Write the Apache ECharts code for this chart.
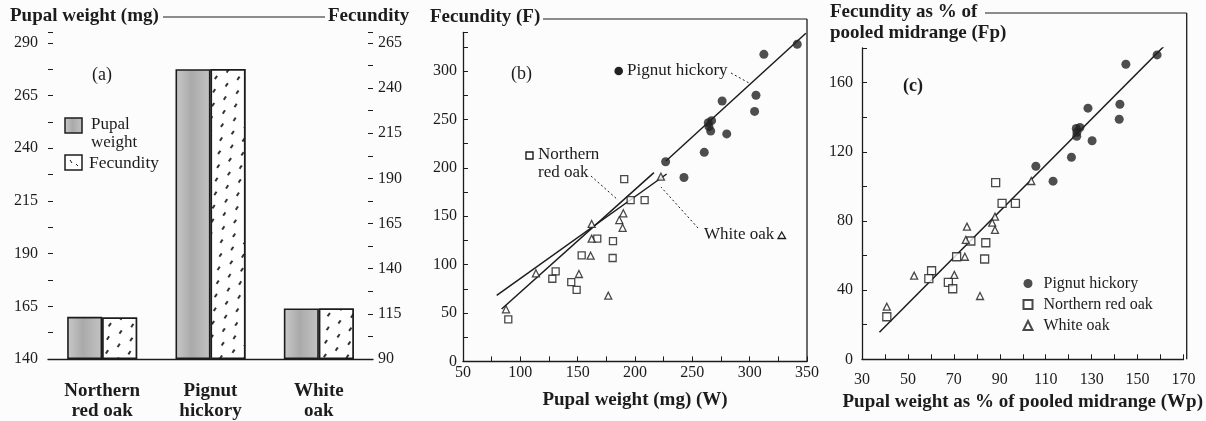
<!DOCTYPE html>
<html>
<head>
<meta charset="utf-8">
<script src="https://cdn.jsdelivr.net/npm/echarts@6/dist/echarts.min.js"></script>
<style>
html,body{margin:0;padding:0;background:#fcfcfc;}
#chart{width:1206px;height:421px;}
</style>
</head>
<body>
<div id="chart"></div>
<script>
// ---------- Panel (a) ----------
const categories = ['Northern\nred oak', 'Pignut\nhickory', 'White\noak'];
const pupalWeight = [160, 277.5, 164];     // mg
const fecundity = [113, 250.5, 118];
const pupalAxisMin = 140, pupalAxisMax = 290;   // left axis range (labels every 25)
const fecAxisMin = 90, fecAxisMax = 265;        // right axis range (labels every 25)

// ---------- Panel (b) : W (mg) vs F ----------
const pignutB = [[341.5,327.6],[312.4,317.2],[305.5,275],[304.3,258.3],[276,269],[280,235],[266.8,248.7],[263.9,246.6],[264.5,242.5],[266,238],[260.4,216],[242.7,190],[226.7,206.3]];
const redOakB = [[190.6,188.4],[196.2,166.7],[208.4,166.7],[180.8,124.3],[180.5,106.8],[167.1,126.8],[153.5,109.6],[130.8,93],[127.9,85.4],[144.4,82],[149.1,73.8],[89.5,43.5]];
const whiteOakB = [[222.6,190.8],[189.8,153],[186.3,146],[189.2,138],[162.2,142],[162.2,126.8],[161.3,109.2],[151.1,90.3],[113.6,91],[176.7,67.9],[87.5,53.8]];
const pignutFitB = [[227,207],[349,339]];
const redOakFitB = [[83.7,54.1],[216.5,195]];
const whiteOakFitB = [[79.4,68.3],[227.6,193.6]];

// ---------- Panel (c) : Wp vs Fp ----------
const pignutC = [[158.5,176],[144.9,170.6],[142.3,147.5],[142,138.8],[128.4,145.2],[130.2,126.4],[123.3,133.5],[124.9,134],[123.6,131.3],[123.5,129],[121.2,116.8],[113.2,103],[105.7,111.6]];
const redOakC = [[88.2,102.1],[91,90.2],[96.8,90.2],[77.4,68.4],[83.9,67.4],[83.4,58],[71.2,59.3],[60.3,51.2],[59.1,46.6],[67.6,44.5],[69.5,40.8],[40.8,24.6]];
const whiteOakC = [[103.7,103.1],[87.9,82.5],[86.7,79],[87.9,74.8],[75.7,76.7],[75.2,69],[74.8,59.3],[70.2,48.8],[52.7,48.4],[81.4,36.6],[40.8,30.4]];
const pooledFitC = [[37.6,15.6],[163.8,184.1]];

const SERIF = '"Liberation Serif", "DejaVu Serif", serif';
const INK = '#1c1c1c';
const BOLD = 'bold 19px ' + SERIF;

const chart = echarts.init(document.getElementById('chart'), null, {renderer:'canvas'});

const grayFill = new echarts.graphic.LinearGradient(0,0,1,0,[
  {offset:0,color:'#c9c9c9'},{offset:0.45,color:'#aaaaaa'},{offset:1,color:'#c3c3c3'}]);
const fecDecal = {
  symbol:'rect', symbolSize:1, symbolKeepAspect:false, color:'#333', backgroundColor:'#ffffff',
  dashArrayX:[[1.1,11],[0,6,1.1,5]], dashArrayY:[3.5,8], rotation:0.6
};

// Offset axes so ticks start at the axis minimum regardless of tick rounding
const pwSpan = pupalAxisMax - pupalAxisMin;       // 150
const fecSpan = fecAxisMax - fecAxisMin;          // 175
const extraTop = 5;                               // axis line runs a little above top label
const leftMax = pwSpan + extraTop;
const rightMax = leftMax * fecSpan / pwSpan;

const axisLine = {lineStyle:{color:INK,width:1.3}};
const tick = {show:true, inside:true, length:5, lineStyle:{color:INK,width:1}};
const lbl = (extra) => Object.assign({color:INK, fontFamily:SERIF, fontSize:16}, extra);

const symStyleHollow = {color:'#ffffff', borderColor:INK, borderWidth:1.3};

function fitLine(name, data, xi, yi){
  return {type:'line', name:name, xAxisIndex:xi, yAxisIndex:yi, data:data, symbol:'none',
    silent:true, lineStyle:{color:INK,width:1.5}, z:1, animation:false};
}

const option = {
  animation:false,
  backgroundColor:'#fcfcfc',
  textStyle:{fontFamily:SERIF},
  grid:[
    {left:48, top:32.4, width:325, height:327.6},
    {left:463, top:32.3, width:344, height:329.1},
    {left:862, top:48, width:325, height:311.3}
  ],
  legend:{
    data:['Pignut hickory','Northern red oak','White oak'],
    orient:'vertical', left:1022.5, top:274, padding:0,
    itemWidth:9, itemHeight:9, itemGap:2, selectedMode:false,
    textStyle:{fontFamily:SERIF, fontSize:16, color:INK, lineHeight:19, padding:[0,0,0,6]}
  },
  xAxis:[
    {type:'category', gridIndex:0, data:categories, axisLine:axisLine, axisTick:{show:false},
     axisLabel:lbl({fontWeight:'bold', fontSize:19, lineHeight:20, margin:22})},
    {type:'value', gridIndex:1, min:50, max:350, interval:25, axisLine:axisLine, axisTick:tick,
     splitLine:{show:false},
     axisLabel:lbl({margin:3, formatter:v => (v % 50 === 0 ? String(v) : '')}),
     name:'Pupal weight (mg) (W)', nameLocation:'middle', nameGap:29,
     nameTextStyle:{fontFamily:SERIF, fontWeight:'bold', fontSize:19, color:INK}},
    {type:'value', gridIndex:2, min:30, max:170, interval:10, axisLine:axisLine, axisTick:tick,
     splitLine:{show:false},
     axisLabel:lbl({margin:12, formatter:v => ((v - 30) % 20 === 0 ? String(v) : '')}),
     name:'Pupal weight as % of pooled midrange (Wp)', nameLocation:'middle', nameGap:31,
     nameTextStyle:{fontFamily:SERIF, fontWeight:'bold', fontSize:19, color:INK}}
  ],
  yAxis:[
    {type:'value', gridIndex:0, position:'left', min:0, max:leftMax, interval:12.5,
     axisLine:axisLine, axisTick:tick, splitLine:{show:false},
     axisLabel:lbl({margin:10, formatter:v => (v % 25 === 0 && v <= pwSpan ? String(v + pupalAxisMin) : '')})},
    {type:'value', gridIndex:0, position:'right', min:0, max:rightMax, interval:12.5,
     axisLine:axisLine, axisTick:tick, splitLine:{show:false},
     axisLabel:lbl({margin:5, formatter:v => (v % 25 === 0 && v <= fecSpan ? String(v + fecAxisMin) : '')})},
    {type:'value', gridIndex:1, min:0, max:340, interval:25, axisLine:axisLine, axisTick:tick,
     splitLine:{show:false},
     axisLabel:lbl({margin:6, formatter:v => (v % 50 === 0 ? String(v) : '')})},
    {type:'value', gridIndex:2, min:0, max:180, interval:20, axisLine:axisLine, axisTick:tick,
     splitLine:{show:false},
     axisLabel:lbl({margin:9, formatter:v => (v % 40 === 0 && v <= 160 ? String(v) : '')})}
  ],
  series:[
    {type:'bar', name:'Pupal weight', xAxisIndex:0, yAxisIndex:0, barWidth:35, barGap:'0%',
     data:pupalWeight.map(v => v - pupalAxisMin),
     itemStyle:{color:grayFill, borderColor:INK, borderWidth:1.6}},
    {type:'bar', name:'Fecundity', xAxisIndex:0, yAxisIndex:1, barWidth:35, barGap:'0%',
     data:fecundity.map(v => v - fecAxisMin),
     itemStyle:{color:'#ffffff', borderColor:INK, borderWidth:1.6, decal:fecDecal}},

    fitLine('fitPignutB', pignutFitB, 1, 2),
    fitLine('fitRedOakB', redOakFitB, 1, 2),
    fitLine('fitWhiteOakB', whiteOakFitB, 1, 2),
    {type:'scatter', name:'Pignut hickory', xAxisIndex:1, yAxisIndex:2, data:pignutB,
     symbol:'circle', symbolSize:9, itemStyle:{color:'#222'}, z:3},
    {type:'scatter', name:'Northern red oak', xAxisIndex:1, yAxisIndex:2, data:redOakB,
     symbol:'rect', symbolSize:7, itemStyle:symStyleHollow, z:3},
    {type:'scatter', name:'White oak', xAxisIndex:1, yAxisIndex:2, data:whiteOakB,
     symbol:'triangle', symbolSize:7, itemStyle:symStyleHollow, z:3},

    fitLine('fitPooledC', pooledFitC, 2, 3),
    {type:'scatter', name:'Pignut hickory', xAxisIndex:2, yAxisIndex:3, data:pignutC,
     symbol:'circle', symbolSize:9, itemStyle:{color:'#222'}, z:3},
    {type:'scatter', name:'Northern red oak', xAxisIndex:2, yAxisIndex:3, data:redOakC,
     symbol:'rect', symbolSize:8, itemStyle:symStyleHollow, z:3},
    {type:'scatter', name:'White oak', xAxisIndex:2, yAxisIndex:3, data:whiteOakC,
     symbol:'triangle', symbolSize:7, itemStyle:symStyleHollow, z:3}
  ],
  graphic:[
    // Panel (a) titles and connecting line
    {type:'text', x:10, y:16, style:{text:'Pupal weight (mg)', font:BOLD, fill:INK, verticalAlign:'middle'}},
    {type:'line', shape:{x1:163,y1:17,x2:325,y2:17}, style:{stroke:INK,lineWidth:1.2}},
    {type:'text', x:328, y:16, style:{text:'Fecundity', font:BOLD, fill:INK, verticalAlign:'middle'}},
    {type:'text', x:92, y:75, style:{text:'(a)', font:'18px '+SERIF, fill:INK, verticalAlign:'middle'}},
    // Panel (a) legend
    {type:'rect', shape:{x:65,y:118,width:17,height:15}, style:{fill:grayFill, stroke:INK, lineWidth:1.5}},
    {type:'text', x:91, y:116, style:{text:'Pupal\nweight', font:'17px '+SERIF, lineHeight:18, fill:INK, verticalAlign:'top'}},
    {type:'rect', shape:{x:65,y:155,width:17,height:15}, style:{fill:'#fff', stroke:INK, lineWidth:1.5}},
    {type:'line', shape:{x1:70,y1:160,x2:72,y2:163}, style:{stroke:INK,lineWidth:1}},
    {type:'line', shape:{x1:76,y1:164,x2:78,y2:166}, style:{stroke:INK,lineWidth:1}},
    {type:'text', x:89, y:163, style:{text:'Fecundity', font:'17.5px '+SERIF, fill:INK, verticalAlign:'middle'}},

    // Panel (b) title + frame
    {type:'text', x:430, y:17, style:{text:'Fecundity (F)', font:BOLD, fill:INK, verticalAlign:'middle'}},
    {type:'line', shape:{x1:543,y1:19,x2:807,y2:19}, style:{stroke:INK,lineWidth:1.2}},
    {type:'line', shape:{x1:807,y1:19,x2:807,y2:361.4}, style:{stroke:INK,lineWidth:1.3}},
    {type:'text', x:511, y:74, style:{text:'(b)', font:'18px '+SERIF, fill:INK, verticalAlign:'middle'}},
    // Panel (b) annotations
    {type:'circle', shape:{cx:618.7,cy:71,r:4.3}, style:{fill:'#222'}},
    {type:'text', x:627, y:71, style:{text:'Pignut hickory', font:'17px '+SERIF, fill:INK, verticalAlign:'middle'}},
    {type:'line', shape:{x1:731,y1:73,x2:749,y2:83}, style:{stroke:INK,lineWidth:1,lineDash:[2,2.5]}},
    {type:'rect', shape:{x:526,y:152,width:7,height:7}, style:{fill:'#fff', stroke:INK, lineWidth:1.4}},
    {type:'text', x:538, y:146, style:{text:'Northern\nred oak', font:'17px '+SERIF, lineHeight:18, fill:INK, verticalAlign:'top'}},
    {type:'line', shape:{x1:591,y1:176,x2:618,y2:200}, style:{stroke:INK,lineWidth:1,lineDash:[2,2.5]}},
    {type:'text', x:704, y:235, style:{text:'White oak', font:'17px '+SERIF, fill:INK, verticalAlign:'middle'}},
    {type:'polygon', shape:{points:[[778,238.5],[785.5,238.5],[781.7,232]]}, style:{fill:'#fff', stroke:INK, lineWidth:1.3}},
    {type:'line', shape:{x1:698,y1:228,x2:661,y2:187}, style:{stroke:INK,lineWidth:1,lineDash:[2,2.5]}},

    // Panel (c) title + frame
    {type:'text', x:830, y:2, style:{text:'Fecundity as % of\npooled midrange (Fp)', font:BOLD, lineHeight:21, fill:INK, verticalAlign:'top'}},
    {type:'line', shape:{x1:985,y1:13,x2:1186.7,y2:13}, style:{stroke:INK,lineWidth:1.2}},
    {type:'line', shape:{x1:1186.7,y1:13,x2:1186.7,y2:359.3}, style:{stroke:INK,lineWidth:1.3}},
    {type:'text', x:903, y:86, style:{text:'(c)', font:'bold 18px '+SERIF, fill:INK, verticalAlign:'middle'}}
  ]
};
chart.setOption(option);
</script>
</body>
</html>
